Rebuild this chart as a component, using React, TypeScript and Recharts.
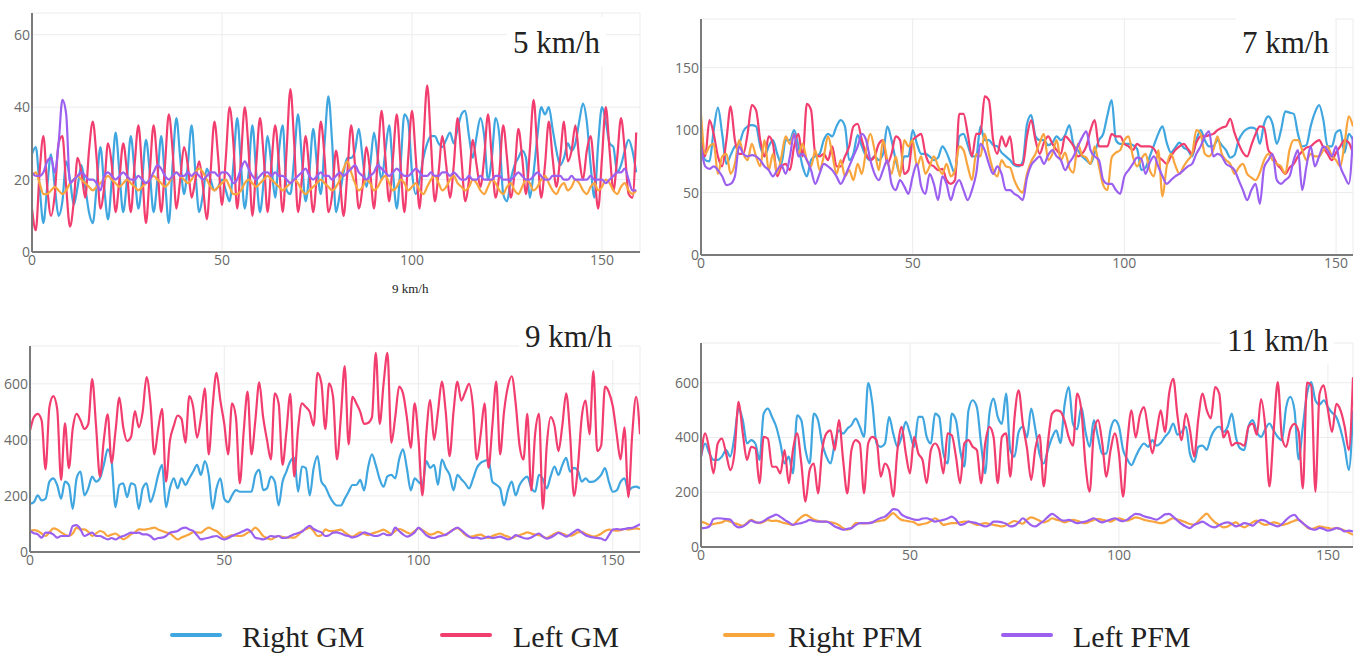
import React from 'react';
import { LineChart, Line, XAxis, YAxis, CartesianGrid } from 'recharts';

// series colours (plotly-ish)
const COLORS = {
  rightGM: '#3fa6e0',
  leftGM: '#f23d6f',
  rightPFM: '#f9a53e',
  leftPFM: '#9c60f0',
};

const xTicks = [0, 50, 100, 150];

// ---------- 5 km/h ----------
const steps5 = Array.from({ length: 160 }, (_, i) => i);
const rightGM5 = [
  27, 29, 18, 8, 18, 27, 18, 10, 14, 25, 20, 13, 18, 24, 18, 11, 8, 18, 29, 18,
  9, 20, 33, 22, 11, 20, 32, 22, 12, 20, 31, 22, 11, 20, 32, 20, 8, 24, 37, 26,
  16, 24, 35, 22, 11, 16, 23, 20, 17, 18, 20, 17, 14, 24, 37, 24, 12, 22, 35, 22,
  11, 20, 32, 24, 15, 28, 35, 17, 16, 26, 38, 26, 14, 22, 34, 24, 16, 30, 43, 30,
  11, 16, 22, 26, 26, 28, 34, 26, 18, 24, 33, 26, 20, 28, 35, 22, 12, 24, 38, 36,
  22, 16, 20, 26, 30, 32, 32, 30, 29, 31, 33, 30, 34, 38, 39, 32, 26, 32, 37, 32,
  20, 26, 37, 32, 16, 14, 20, 24, 26, 28, 26, 15, 22, 32, 40, 38, 40, 34, 28, 24,
  26, 30, 28, 30, 36, 41, 36, 24, 15, 30, 40, 36, 30, 29, 22, 24, 28, 31, 28, 22,
];
const leftGM5 = [
  12, 6, 22, 32, 18, 10, 16, 30, 32, 18, 7, 14, 26, 22, 15, 28, 36, 26, 12, 18,
  30, 24, 11, 20, 30, 22, 11, 24, 35, 22, 8, 22, 35, 24, 11, 24, 38, 28, 12, 20,
  29, 24, 15, 20, 25, 18, 9, 22, 36, 26, 13, 26, 40, 30, 12, 26, 40, 28, 10, 24,
  37, 26, 11, 24, 35, 24, 11, 28, 45, 30, 11, 20, 32, 22, 11, 22, 36, 26, 11, 16,
  28, 20, 10, 22, 35, 24, 12, 18, 29, 22, 12, 26, 39, 26, 14, 26, 38, 24, 11, 26,
  39, 26, 12, 30, 46, 30, 14, 22, 32, 24, 15, 24, 37, 26, 14, 20, 31, 24, 18, 26,
  38, 26, 15, 22, 35, 26, 15, 22, 34, 26, 16, 28, 42, 28, 15, 24, 36, 26, 18, 26,
  36, 25, 28, 35, 26, 20, 28, 32, 22, 12, 26, 40, 28, 17, 26, 37, 28, 16, 15, 33,
];
const rightPFM5 = [
  21, 22, 19, 16, 16, 17, 18, 17, 16, 17, 19, 20, 21, 20, 19, 18, 17, 18, 19, 20,
  21, 20, 19, 18, 19, 20, 19, 18, 17, 18, 19, 20, 21, 20, 19, 18, 19, 21, 22, 21,
  20, 19, 20, 22, 23, 22, 20, 18, 17, 18, 19, 20, 18, 16, 16, 17, 19, 20, 19, 18,
  19, 20, 21, 20, 19, 18, 17, 18, 19, 20, 19, 17, 16, 17, 18, 19, 20, 19, 18, 17,
  18, 20, 23, 25, 22, 19, 17, 18, 20, 19, 17, 18, 20, 21, 19, 17, 18, 20, 19, 17,
  18, 19, 17, 16, 18, 20, 21, 19, 17, 18, 20, 21, 19, 18, 17, 18, 20, 19, 17, 16,
  18, 20, 19, 17, 16, 18, 19, 17, 16, 18, 20, 19, 17, 18, 20, 21, 19, 17, 16, 18,
  19, 17, 18, 20, 19, 17, 16, 18, 19, 17, 18, 20, 19, 17, 16, 18, 19, 17, 16, 17,
];
const leftPFM5 = [
  22, 21, 21, 22, 25, 26, 22, 30, 42, 38, 19, 20, 21, 22, 21, 20, 20, 19, 17, 21,
  22, 21, 20, 21, 22, 21, 20, 20, 21, 20, 19, 20, 22, 24, 23, 21, 20, 21, 22, 21,
  21, 22, 21, 22, 21, 20, 21, 22, 22, 21, 22, 22, 21, 19, 20, 23, 25, 23, 21, 20,
  21, 22, 22, 21, 22, 21, 21, 20, 19, 20, 21, 22, 23, 21, 20, 21, 22, 21, 21, 20,
  21, 22, 21, 22, 23, 24, 22, 21, 20, 21, 22, 24, 23, 22, 21, 22, 23, 22, 21, 21,
  22, 23, 22, 21, 21, 22, 21, 21, 22, 22, 21, 22, 21, 20, 20, 21, 20, 20, 21, 20,
  20, 20, 21, 21, 20, 20, 20, 21, 22, 21, 20, 20, 21, 22, 21, 20, 20, 21, 21, 21,
  20, 20, 21, 20, 20, 20, 20, 21, 20, 20, 20, 19, 20, 21, 22, 22, 23, 20, 17, 17,
];

// ---------- 7 km/h ----------
const steps7 = Array.from({ length: 155 }, (_, i) => i);
const rightGM7 = [
  92, 76, 75, 100, 118, 97, 73, 80, 87, 89, 99, 103, 104, 103, 87, 79, 87, 92, 81, 73,
  92, 92, 100, 87, 71, 63, 76, 79, 81, 92, 97, 95, 103, 108, 103, 76, 81, 96, 87, 79,
  76, 79, 76, 81, 103, 92, 76, 65, 79, 79, 100, 89, 81, 81, 79, 76, 78, 87, 82, 73,
  65, 95, 97, 88, 79, 79, 103, 92, 92, 88, 87, 82, 79, 76, 72, 71, 75, 105, 112, 95,
  92, 92, 88, 90, 95, 92, 96, 104, 88, 84, 79, 76, 73, 82, 92, 97, 112, 124, 92, 89,
  89, 89, 88, 85, 68, 70, 79, 88, 97, 103, 90, 82, 86, 90, 86, 84, 79, 92, 100, 92,
  87, 87, 92, 88, 84, 78, 80, 92, 98, 101, 102, 101, 89, 105, 111, 105, 89, 100, 115, 114,
  113, 97, 87, 88, 103, 114, 120, 108, 87, 87, 98, 100, 82, 97, 92,
];
const leftGM7 = [
  97, 79, 108, 97, 79, 71, 92, 119, 92, 81, 81, 97, 120, 116, 92, 79, 95, 89, 63, 71,
  73, 68, 87, 97, 79, 121, 116, 81, 79, 81, 76, 87, 71, 71, 79, 87, 103, 105, 92, 81,
  76, 79, 89, 92, 73, 81, 95, 92, 65, 68, 92, 95, 97, 81, 73, 71, 68, 69, 60, 57,
  60, 113, 113, 97, 79, 97, 97, 127, 124, 92, 81, 95, 87, 95, 73, 72, 72, 95, 108, 92,
  81, 90, 95, 89, 84, 81, 95, 92, 87, 79, 81, 87, 100, 108, 87, 87, 87, 97, 95, 95,
  89, 87, 84, 89, 87, 87, 87, 85, 79, 76, 73, 79, 84, 87, 89, 85, 81, 90, 95, 95,
  96, 97, 100, 102, 103, 109, 98, 89, 82, 79, 88, 97, 103, 102, 84, 80, 73, 69, 65, 70,
  73, 79, 83, 86, 87, 90, 92, 86, 81, 76, 82, 87, 92, 90, 81,
];
const rightPFM7 = [
  113, 81, 87, 89, 65, 79, 81, 65, 73, 92, 81, 76, 89, 79, 71, 92, 68, 81, 65, 79,
  95, 89, 97, 81, 89, 76, 71, 84, 68, 79, 95, 81, 65, 76, 63, 68, 60, 73, 65, 84,
  97, 84, 68, 92, 76, 65, 79, 63, 92, 87, 92, 71, 79, 65, 71, 79, 71, 65, 73, 63,
  68, 87, 84, 71, 60, 81, 79, 97, 81, 68, 63, 76, 71, 70, 60, 53, 50, 65, 75, 81,
  90, 97, 76, 81, 92, 76, 82, 70, 66, 89, 80, 78, 73, 87, 71, 56, 52, 78, 82, 84,
  92, 95, 79, 71, 77, 81, 68, 63, 84, 47, 71, 81, 72, 65, 71, 76, 81, 100, 97, 81,
  79, 84, 95, 81, 76, 73, 65, 70, 73, 65, 62, 60, 66, 76, 81, 76, 73, 71, 65, 84,
  92, 92, 84, 76, 81, 79, 79, 84, 87, 79, 76, 71, 89, 111, 103,
];
const leftPFM7 = [
  87, 71, 69, 71, 68, 63, 56, 57, 63, 87, 81, 79, 80, 79, 76, 71, 68, 63, 68, 72,
  65, 79, 97, 79, 81, 76, 68, 57, 65, 73, 71, 68, 63, 57, 63, 71, 79, 87, 97, 92,
  76, 65, 60, 68, 76, 57, 52, 60, 55, 49, 63, 73, 55, 49, 65, 57, 44, 63, 57, 44,
  55, 60, 52, 44, 52, 65, 89, 84, 73, 65, 71, 65, 52, 52, 49, 47, 44, 62, 72, 76,
  79, 73, 80, 84, 79, 76, 68, 74, 79, 87, 94, 99, 84, 79, 76, 60, 57, 57, 52, 49,
  63, 68, 73, 78, 77, 65, 74, 79, 71, 63, 57, 60, 63, 65, 68, 71, 73, 81, 87, 95,
  99, 79, 81, 79, 73, 71, 68, 60, 52, 44, 52, 57, 41, 70, 76, 81, 60, 57, 60, 63,
  76, 84, 52, 71, 87, 71, 79, 87, 84, 79, 87, 71, 63, 57, 95,
];

// ---------- 9 km/h ----------
const steps9 = Array.from({ length: 158 }, (_, i) => i);
const rightGM9 = [
  172, 178, 202, 184, 190, 251, 263, 239, 190, 251, 239, 154, 263, 287, 202, 227, 269, 251, 263, 311,
  366, 324, 160, 239, 245, 196, 245, 239, 154, 227, 245, 178, 215, 275, 311, 160, 227, 263, 227, 263,
  239, 263, 287, 311, 275, 324, 275, 154, 227, 263, 190, 178, 202, 221, 215, 215, 215, 215, 275, 293,
  221, 227, 269, 251, 166, 251, 287, 324, 336, 215, 305, 299, 202, 299, 342, 251, 233, 202, 178, 166,
  166, 190, 215, 239, 239, 257, 220, 300, 348, 310, 260, 233, 270, 275, 263, 330, 366, 299, 220, 263,
  250, 239, 324, 300, 311, 239, 330, 300, 275, 220, 275, 260, 245, 227, 260, 300, 318, 325, 330, 251,
  240, 227, 166, 220, 251, 202, 239, 260, 269, 230, 215, 275, 260, 227, 270, 305, 275, 310, 336, 287,
  300, 290, 251, 263, 250, 251, 260, 275, 299, 250, 215, 220, 250, 263, 220, 230, 233, 227,
];
const leftGM9 = [
  433, 481, 493, 469, 295, 517, 556, 510, 257, 459, 299, 440, 493, 470, 439, 457, 617, 450, 269, 400,
  491, 318, 430, 551, 445, 396, 410, 503, 445, 500, 624, 530, 348, 440, 511, 251, 396, 450, 487, 475,
  390, 556, 517, 408, 480, 584, 348, 520, 639, 540, 457, 348, 530, 480, 245, 430, 572, 348, 470, 605,
  481, 400, 330, 566, 530, 311, 430, 564, 269, 440, 530, 517, 500, 451, 639, 602, 439, 602, 554, 330,
  480, 663, 384, 554, 530, 500, 457, 460, 480, 711, 457, 600, 711, 390, 480, 590, 566, 480, 372, 530,
  400, 202, 420, 542, 400, 500, 608, 500, 342, 500, 608, 540, 570, 600, 520, 330, 420, 530, 300, 450,
  608, 348, 500, 590, 627, 530, 380, 330, 493, 220, 420, 493, 154, 380, 481, 450, 360, 450, 566, 420,
  200, 300, 480, 540, 420, 645, 360, 380, 590, 570, 520, 420, 330, 445, 196, 420, 554, 420,
];
const rightPFM9 = [
  75, 78, 75, 66, 57, 70, 84, 80, 70, 62, 57, 66, 87, 80, 81, 72, 57, 66, 75, 70,
  57, 62, 66, 56, 45, 52, 63, 70, 81, 80, 81, 84, 87, 80, 75, 70, 66, 55, 45, 52,
  57, 63, 71, 70, 69, 80, 87, 80, 75, 63, 51, 55, 60, 58, 57, 60, 69, 75, 87, 75,
  57, 50, 45, 52, 57, 54, 51, 52, 51, 60, 75, 81, 87, 75, 57, 60, 81, 75, 75, 77,
  80, 70, 60, 55, 62, 70, 65, 60, 66, 70, 75, 80, 72, 65, 75, 82, 78, 70, 65, 75,
  84, 78, 70, 62, 65, 72, 66, 60, 72, 80, 85, 75, 62, 55, 56, 60, 62, 55, 50, 57,
  62, 66, 60, 55, 50, 56, 60, 65, 70, 66, 62, 60, 55, 50, 57, 65, 70, 66, 60, 58,
  62, 70, 72, 65, 60, 55, 58, 65, 75, 80, 78, 76, 78, 82, 80, 82, 84, 81,
];
const leftPFM9 = [
  75, 67, 63, 51, 69, 69, 63, 51, 57, 57, 57, 93, 96, 81, 57, 63, 69, 57, 57, 51,
  45, 50, 45, 52, 57, 63, 69, 68, 69, 63, 63, 57, 45, 50, 51, 57, 69, 72, 75, 84,
  87, 80, 75, 60, 45, 48, 51, 55, 57, 50, 45, 50, 57, 63, 69, 75, 81, 70, 51, 48,
  45, 50, 57, 55, 57, 50, 51, 57, 63, 68, 72, 85, 93, 82, 75, 70, 57, 60, 69, 70,
  66, 60, 57, 52, 55, 62, 70, 66, 60, 57, 60, 66, 60, 62, 87, 75, 63, 55, 60, 70,
  87, 75, 60, 52, 50, 55, 58, 62, 70, 80, 87, 78, 66, 55, 50, 52, 48, 50, 55, 50,
  52, 55, 50, 45, 50, 60, 55, 50, 48, 52, 60, 66, 55, 48, 52, 60, 68, 62, 55, 62,
  72, 80, 70, 60, 55, 52, 50, 48, 42, 60, 80, 82, 80, 82, 85, 86, 92, 99,
];

// ---------- 11 km/h ----------
const steps11 = Array.from({ length: 157 }, (_, i) => i);
const rightGM11 = [
  330, 378, 342, 318, 318, 330, 354, 330, 402, 505, 463, 378, 390, 378, 318, 487, 505, 475, 439, 378,
  305, 330, 269, 481, 463, 354, 305, 487, 463, 378, 330, 305, 378, 426, 414, 432, 445, 469, 439, 402,
  599, 524, 378, 366, 378, 475, 414, 366, 402, 457, 414, 366, 475, 475, 402, 378, 487, 475, 342, 305,
  487, 463, 354, 293, 499, 536, 511, 378, 269, 487, 542, 475, 450, 560, 354, 330, 420, 440, 400, 505,
  430, 340, 305, 355, 400, 426, 380, 520, 584, 450, 430, 511, 420, 366, 463, 400, 340, 342, 430, 463,
  440, 354, 320, 299, 330, 360, 378, 366, 390, 370, 380, 402, 420, 451, 410, 420, 440, 340, 311, 366,
  370, 355, 402, 430, 440, 420, 439, 487, 400, 360, 354, 440, 463, 420, 402, 430, 451, 426, 402, 390,
  510, 548, 500, 320, 440, 560, 602, 536, 520, 536, 511, 490, 475, 430, 366, 281, 499,
];
const leftGM11 = [
  330, 415, 354, 269, 378, 396, 342, 281, 342, 530, 415, 318, 366, 360, 233, 402, 396, 293, 293, 269,
  354, 233, 354, 415, 305, 166, 281, 305, 196, 354, 415, 426, 354, 463, 318, 196, 354, 390, 378, 196,
  378, 402, 390, 257, 305, 281, 184, 354, 439, 342, 269, 402, 342, 318, 233, 354, 378, 354, 269, 415,
  408, 330, 233, 378, 390, 366, 354, 233, 378, 439, 402, 233, 402, 415, 257, 470, 572, 450, 360, 245,
  360, 410, 221, 380, 487, 499, 495, 460, 400, 370, 560, 500, 300, 202, 420, 463, 380, 257, 354, 415,
  340, 184, 380, 499, 400, 480, 511, 426, 342, 420, 499, 420, 560, 614, 480, 390, 487, 426, 330, 470,
  560, 500, 470, 584, 560, 400, 424, 370, 380, 378, 370, 440, 451, 410, 540, 440, 221, 420, 602, 400,
  366, 430, 450, 420, 214, 600, 590, 202, 560, 590, 500, 420, 523, 500, 440, 354, 620,
];
const rightPFM11 = [
  93, 88, 81, 84, 87, 90, 97, 92, 87, 82, 78, 88, 99, 92, 87, 92, 99, 95, 96, 92,
  87, 84, 81, 95, 109, 117, 110, 100, 96, 93, 93, 90, 87, 80, 69, 63, 70, 87, 87, 86,
  87, 90, 93, 96, 99, 112, 124, 110, 99, 96, 93, 90, 81, 84, 87, 95, 105, 95, 81, 84,
  87, 87, 90, 93, 93, 87, 81, 84, 87, 84, 81, 78, 75, 80, 88, 95, 90, 85, 100, 108,
  103, 96, 90, 95, 105, 100, 96, 90, 95, 99, 96, 90, 87, 93, 99, 103, 99, 96, 93, 100,
  105, 100, 96, 102, 108, 105, 99, 96, 93, 90, 87, 90, 99, 105, 100, 96, 90, 84, 81, 95,
  110, 122, 105, 90, 80, 72, 75, 84, 90, 78, 72, 80, 90, 96, 87, 81, 84, 90, 87, 80,
  84, 90, 96, 100, 87, 72, 66, 70, 75, 72, 70, 66, 70, 66, 60, 52, 45,
];
const leftPFM11 = [
  69, 70, 75, 102, 105, 104, 102, 100, 81, 72, 75, 85, 96, 90, 89, 95, 105, 112, 118, 110,
  99, 90, 81, 85, 87, 92, 99, 95, 93, 93, 93, 86, 75, 69, 63, 66, 69, 80, 87, 87,
  87, 90, 99, 106, 111, 124, 138, 136, 118, 110, 105, 100, 99, 104, 105, 100, 93, 96, 99, 104,
  111, 100, 81, 84, 93, 90, 87, 80, 75, 80, 93, 93, 90, 85, 75, 78, 90, 105, 93, 80,
  75, 85, 95, 110, 121, 112, 100, 96, 99, 93, 87, 90, 93, 99, 105, 96, 90, 95, 100, 105,
  98, 94, 100, 112, 121, 119, 112, 108, 104, 100, 108, 119, 121, 110, 96, 84, 75, 69, 81, 87,
  93, 84, 75, 72, 80, 87, 90, 84, 75, 80, 87, 84, 78, 90, 99, 96, 87, 80, 75, 84,
  99, 112, 117, 100, 87, 75, 66, 63, 70, 66, 60, 63, 69, 66, 57, 60, 57,
];

const toRows = (steps, rGM, lGM, rPFM, lPFM) =>
  steps.map((t, i) => ({ t, rightGM: rGM[i], leftGM: lGM[i], rightPFM: rPFM[i], leftPFM: lPFM[i] }));

const seriesOrder = ['rightGM', 'leftGM', 'rightPFM', 'leftPFM'];

const tickStyle = { fill: '#6a6a6a', fontSize: 14, fontFamily: "'Open Sans', sans-serif" };
const axisStyle = { stroke: '#7b7b7b', strokeWidth: 2 };

const SpeedPanel = ({ left, top, width, height, marginTop, yAxisWidth, xMax, yMax, yTicks, rows }) => (
  <div style={{ position: 'absolute', left, top }}>
    <LineChart width={width} height={height} data={rows} margin={{ top: marginTop, right: 8, bottom: 0, left: 0 }}>
      <CartesianGrid stroke="#ececec" />
      <XAxis
        dataKey="t"
        type="number"
        domain={[0, xMax]}
        ticks={xTicks}
        allowDataOverflow
        height={30}
        tickLine={false}
        tickSize={0}
        tickMargin={3}
        axisLine={axisStyle}
        tick={tickStyle}
      />
      <YAxis
        type="number"
        domain={[0, yMax]}
        ticks={yTicks}
        allowDataOverflow
        width={yAxisWidth}
        tickLine={false}
        tickSize={0}
        tickMargin={2}
        axisLine={axisStyle}
        tick={tickStyle}
      />
      {seriesOrder.map((k) => (
        <Line
          key={k}
          dataKey={k}
          type="monotone"
          stroke={COLORS[k]}
          strokeWidth={2.2}
          dot={false}
          connectNulls
          isAnimationActive={false}
        />
      ))}
    </LineChart>
  </div>
);

const titleStyle = {
  position: 'absolute',
  fontFamily: "'Liberation Serif', serif",
  fontSize: 31,
  lineHeight: '1',
  color: '#222',
  background: '#fff',
  padding: '10px 6px 8px 6px',
  whiteSpace: 'nowrap',
};

const legendItems = [
  { key: 'rightGM', label: 'Right GM', lineX: 170, textX: 242 },
  { key: 'leftGM', label: 'Left GM', lineX: 440, textX: 513 },
  { key: 'rightPFM', label: 'Right PFM', lineX: 723, textX: 788 },
  { key: 'leftPFM', label: 'Left PFM', lineX: 1001, textX: 1073 },
];

const App = () => (
  <div style={{ position: 'absolute', left: 0, top: 0, width: 1360, height: 655, background: '#fff', overflow: 'hidden' }}>
    <SpeedPanel left={0} top={0} width={648} height={282} marginTop={13} yAxisWidth={32} xMax={160} yMax={66} yTicks={[0, 20, 40, 60]} rows={toRows(steps5, rightGM5, leftGM5, rightPFM5, leftPFM5)} />
    <SpeedPanel left={660} top={0} width={701} height={285} marginTop={19} yAxisWidth={41} xMax={154} yMax={189} yTicks={[0, 50, 100, 150]} rows={toRows(steps7, rightGM7, leftGM7, rightPFM7, leftPFM7)} />
    <SpeedPanel left={0} top={300} width={648} height={282} marginTop={46} yAxisWidth={30} xMax={157} yMax={735} yTicks={[0, 200, 400, 600]} rows={toRows(steps9, rightGM9, leftGM9, rightPFM9, leftPFM9)} />
    <SpeedPanel left={660} top={300} width={701} height={277} marginTop={43} yAxisWidth={41} xMax={156} yMax={745} yTicks={[0, 200, 400, 600]} rows={toRows(steps11, rightGM11, leftGM11, rightPFM11, leftPFM11)} />

    <div style={{ ...titleStyle, left: 507, top: 17 }}>5 km/h</div>
    <div style={{ ...titleStyle, left: 1236, top: 17 }}>7 km/h</div>
    <div style={{ ...titleStyle, left: 519, top: 311 }}>9 km/h</div>
    <div style={{ ...titleStyle, left: 1221, top: 315 }}>11 km/h</div>
    <div style={{ position: 'absolute', left: 392, top: 282, fontFamily: "'Liberation Serif', serif", fontSize: 13, lineHeight: '1', color: '#222' }}>9 km/h</div>

    {legendItems.map((it) => (
      <React.Fragment key={it.key}>
        <div style={{ position: 'absolute', left: it.lineX, top: 633, width: 52, height: 4, background: COLORS[it.key], borderRadius: 2 }} />
        <div style={{ position: 'absolute', left: it.textX, top: 622, fontFamily: "'Liberation Serif', serif", fontSize: 30, lineHeight: '1', color: '#222', whiteSpace: 'nowrap' }}>
          {it.label}
        </div>
      </React.Fragment>
    ))}
  </div>
);

export default App;
